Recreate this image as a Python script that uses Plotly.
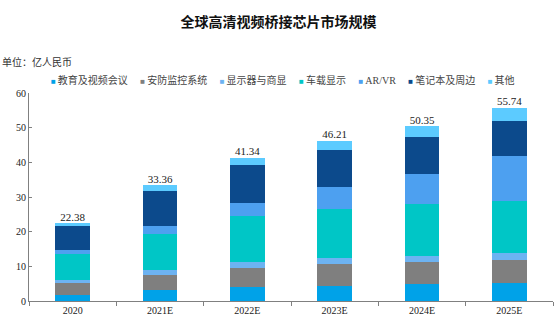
import plotly.graph_objects as go

categories = ["2020", "2021E", "2022E", "2023E", "2024E", "2025E"]
series_names = ["教育及视频会议", "安防监控系统", "显示器与商显", "车载显示", "AR/VR", "笔记本及周边", "其他"]
edu = [1.6, 3.1, 3.9, 4.4, 4.9, 5.1]
security = [3.5, 4.5, 5.7, 6.2, 6.35, 6.7]
display = [1.0, 1.45, 1.65, 1.7, 1.85, 1.95]
car = [7.6, 10.4, 13.25, 14.2, 14.8, 15.0]
arvr = [1.1, 2.2, 3.85, 6.3, 8.8, 12.95]
notebook = [6.7, 10.2, 10.85, 10.8, 10.6, 10.3]
other = [0.88, 1.51, 2.14, 2.61, 3.05, 3.74]
totals = [22.38, 33.36, 41.34, 46.21, 50.35, 55.74]
y_ticks = [0, 10, 20, 30, 40, 50, 60]

series_values = [edu, security, display, car, arvr, notebook, other]
colors = ["#00A2E8", "#7F7F7F", "#6DB3F2", "#00C6C6", "#4DA0F0", "#0C4A8C", "#5CCBFF"]

SERIF = "Liberation Serif, Noto Sans CJK SC, serif"
CJK = "Noto Sans CJK SC, sans-serif"

fig = go.Figure()
for name, vals, col in zip(series_names, series_values, colors):
    fig.add_trace(go.Bar(x=categories, y=vals, name=name, marker=dict(color=col, line=dict(width=0)),
                         width=0.4, showlegend=False))

fig.add_trace(go.Scatter(x=categories, y=totals, mode="text",
                         text=[f"{t:.2f}" for t in totals], textposition="top center",
                         textfont=dict(family=SERIF, size=11, color="#222"),
                         showlegend=False, cliponaxis=False))

legend_parts = []
for name, col in zip(series_names, colors):
    legend_parts.append(f"<span style='color:{col};font-size:8px'>■</span>\u2009{name}")
legend_text = "\u00a0\u00a0\u00a0\u00a0\u00a0".join(legend_parts)

fig.update_layout(
    barmode="stack",
    width=557, height=325,
    margin=dict(l=29, r=4, t=93, b=24),
    paper_bgcolor="white", plot_bgcolor="white",
    bargap=0.6,
    title=dict(text="<b>全球高清视频桥接芯片市场规模</b>", x=0.5, xanchor="center",
               y=1 - 22 / 325, yanchor="middle",
               font=dict(family=CJK, size=14, color="#111")),
    annotations=[
        dict(text="单位：亿人民币", xref="paper", yref="paper", x=-29 / 524, xanchor="left",
             y=1 + (93 - 61) / 208, yanchor="middle", showarrow=False,
             font=dict(family=CJK, size=10, color="#333")),
        dict(text=legend_text, xref="paper", yref="paper", x=(283 - 29) / 524, xanchor="center",
             y=1 + (93 - 80) / 208, yanchor="middle", showarrow=False,
             font=dict(family=SERIF, size=10, color="#444")),
    ],
    xaxis=dict(showline=True, linecolor="#808080", linewidth=1, ticks="outside",
               tickson="boundaries", ticklen=4, tickcolor="#808080", showgrid=False,
               tickfont=dict(family=SERIF, size=10, color="#222")),
    yaxis=dict(range=[0, 60], tickvals=y_ticks, showline=True, linecolor="#808080", linewidth=1,
               ticks="inside", ticklen=3, tickcolor="#808080", showgrid=False, zeroline=False,
               tickfont=dict(family=SERIF, size=10, color="#222")),
)

fig.write_html("out.html")
